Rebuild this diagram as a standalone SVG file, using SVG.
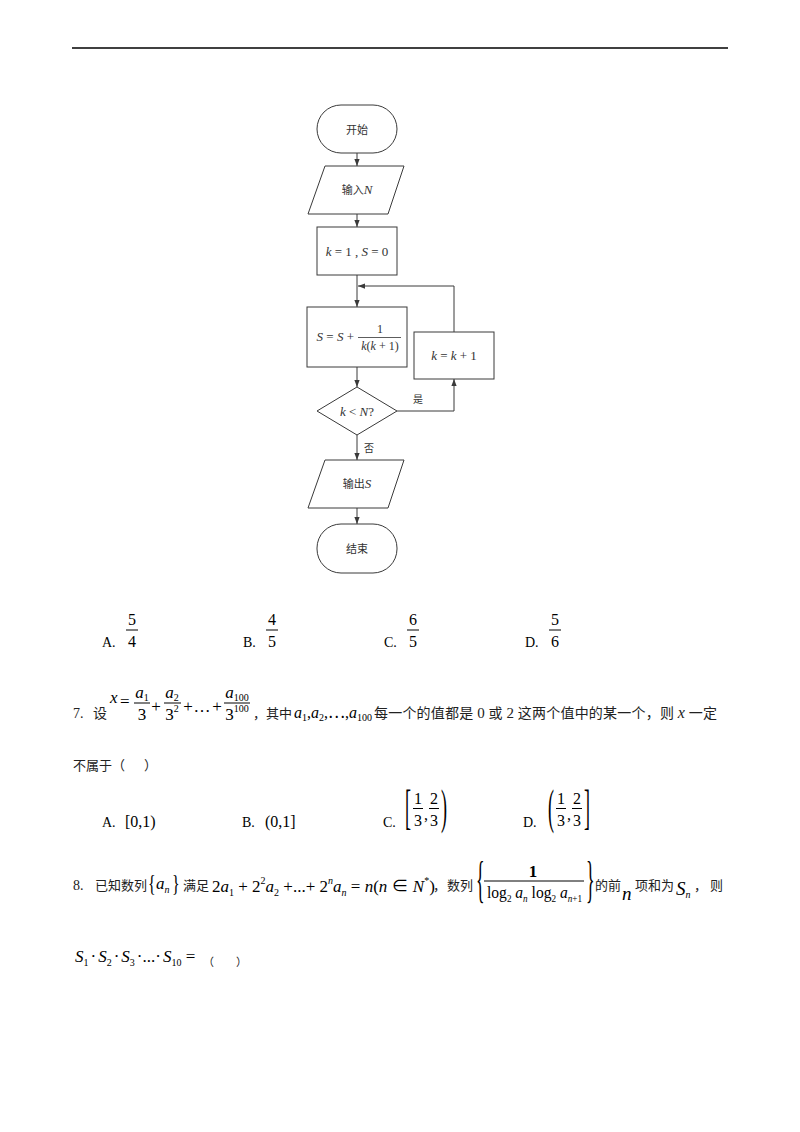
<svg xmlns="http://www.w3.org/2000/svg" width="800" height="1132" viewBox="0 0 800 1132">
<style>
.fc{fill:#fff;stroke:#3a3a3a;stroke-width:1}
.ln{fill:none;stroke:#3a3a3a;stroke-width:1}
.f{font-family:"Liberation Serif","Noto Sans CJK SC",serif;fill:#333}
.cn{font-family:"Liberation Serif","Noto Sans CJK SC",serif;fill:#222}
.m{font-family:"Liberation Serif","Noto Sans CJK SC",serif;fill:#000}
.i{font-style:italic}
.c{text-anchor:middle}
.e{text-anchor:end}
.bar{stroke:#000;stroke-width:1}
</style>
<defs>
<marker id="ah" viewBox="0 0 8 8" refX="8" refY="4" markerWidth="7" markerHeight="7" orient="auto" markerUnits="userSpaceOnUse"><path d="M0,1 L8,4 L0,7 z" fill="#3a3a3a"/></marker>
</defs>
<rect width="800" height="1132" fill="#fff"/>
<line x1="72" y1="48" x2="728" y2="48" stroke="#000" stroke-width="1.5"/>

<g id="connectors">
<line class="ln" x1="357" y1="153" x2="357" y2="166" marker-end="url(#ah)"/>
<line class="ln" x1="357" y1="214" x2="357" y2="227" marker-end="url(#ah)"/>
<line class="ln" x1="357" y1="275" x2="357" y2="307" marker-end="url(#ah)"/>
<polyline class="ln" points="454,332 454,286 358,286" marker-end="url(#ah)"/>
<line class="ln" x1="357" y1="367" x2="357" y2="387" marker-end="url(#ah)"/>
<polyline class="ln" points="397,411 454,411 454,379" marker-end="url(#ah)"/>
<line class="ln" x1="357" y1="435" x2="357" y2="460" marker-end="url(#ah)"/>
<line class="ln" x1="357" y1="508" x2="357" y2="524" marker-end="url(#ah)"/>
<text class="f c" x="418" y="403" font-size="10">是</text>
<text class="f c" x="369" y="452" font-size="10">否</text>
</g>

<g id="start">
<rect class="fc" x="317" y="105" width="80" height="48" rx="24"/>
<text class="f c" x="357" y="134" font-size="11">开始</text>
</g>
<g id="input">
<polygon class="fc" points="325,166 404,166 388,214 308,214"/>
<text class="f c" x="357" y="194" font-size="11">输入<tspan class="i" font-size="13">N</tspan></text>
</g>
<g id="init">
<rect class="fc" x="317" y="227" width="80" height="48"/>
<text class="f c" x="357" y="256" font-size="13"><tspan class="i">k</tspan> = 1 , <tspan class="i">S</tspan> = 0</text>
</g>
<g id="sum">
<rect class="fc" x="307" y="307" width="100" height="60"/>
<text class="f e" x="354" y="341" font-size="13"><tspan class="i">S</tspan> = <tspan class="i">S</tspan> +</text>
<text class="f c" x="380" y="333" font-size="12">1</text>
<line x1="358" y1="337.5" x2="401" y2="337.5" stroke="#333" stroke-width="0.8"/>
<text class="f c" x="380" y="350" font-size="12"><tspan class="i">k</tspan>(<tspan class="i">k</tspan> + 1)</text>
</g>
<g id="inc">
<rect class="fc" x="414" y="332" width="80" height="47"/>
<text class="f c" x="454" y="360" font-size="13"><tspan class="i">k</tspan> = <tspan class="i">k</tspan> + 1</text>
</g>
<g id="decision">
<polygon class="fc" points="357,387 397,411 357,435 317,411"/>
<text class="f c" x="357" y="416" font-size="13"><tspan class="i">k</tspan> &lt; <tspan class="i">N</tspan>?</text>
</g>
<g id="output">
<polygon class="fc" points="325,460 404,460 388,508 308,508"/>
<text class="f c" x="357" y="488" font-size="11">输出<tspan class="i" font-size="13">S</tspan></text>
</g>
<g id="end">
<rect class="fc" x="317" y="524" width="80" height="49" rx="24"/>
<text class="f c" x="357" y="553" font-size="11">结束</text>
</g>

<g id="q6-options" font-size="16">
<text class="m" x="102" y="647" font-size="14">A.</text>
<text class="m c" x="132" y="625">5</text><line class="bar" x1="126" y1="630" x2="138" y2="630"/><text class="m c" x="132" y="647">4</text>
<text class="m" x="243" y="647" font-size="14">B.</text>
<text class="m c" x="272" y="625">4</text><line class="bar" x1="266" y1="630" x2="278" y2="630"/><text class="m c" x="272" y="647">5</text>
<text class="m" x="384" y="647" font-size="14">C.</text>
<text class="m c" x="413" y="625">6</text><line class="bar" x1="407" y1="630" x2="419" y2="630"/><text class="m c" x="413" y="647">5</text>
<text class="m" x="525" y="647" font-size="14">D.</text>
<text class="m c" x="555" y="625">5</text><line class="bar" x1="549" y1="630" x2="561" y2="630"/><text class="m c" x="555" y="647">6</text>
</g>

<g id="q7" font-size="17">
<text class="cn" x="73" y="718" font-size="14">7.</text>
<text class="cn" x="93" y="718" font-size="14">设</text>
<text class="m i" x="110" y="703">x</text>
<text class="m" x="120" y="707">=</text>
<text class="m c" x="142" y="698"><tspan class="i">a</tspan><tspan font-size="10" dy="3">1</tspan></text>
<line class="bar" x1="134" y1="703" x2="150" y2="703"/>
<text class="m c" x="142" y="720">3</text>
<text class="m c" x="156" y="712">+</text>
<text class="m c" x="172" y="698"><tspan class="i">a</tspan><tspan font-size="10" dy="3">2</tspan></text>
<line class="bar" x1="164" y1="703" x2="181" y2="703"/>
<text class="m c" x="172" y="720">3<tspan font-size="10" dy="-8">2</tspan></text>
<text class="m c" x="188" y="712">+</text>
<text class="m c" x="202" y="712">…</text>
<text class="m c" x="217" y="712">+</text>
<text class="m c" x="237" y="698"><tspan class="i">a</tspan><tspan font-size="10" dy="3">100</tspan></text>
<line class="bar" x1="224" y1="703" x2="250" y2="703"/>
<text class="m c" x="237" y="720">3<tspan font-size="10" dy="-8">100</tspan></text>
<text class="cn" x="253" y="718" font-size="13">，其中</text>
<text class="m" x="294" y="718" font-size="16"><tspan class="i">a</tspan><tspan font-size="10" dy="3">1</tspan><tspan dy="-3">,</tspan><tspan class="i">a</tspan><tspan font-size="10" dy="3">2</tspan><tspan dy="-3">,⋯,</tspan><tspan class="i">a</tspan><tspan font-size="10" dy="3">100</tspan></text>
<text class="cn" x="374" y="718" font-size="14" textLength="343" lengthAdjust="spacing">每一个的值都是 <tspan font-size="15">0</tspan> 或 <tspan font-size="15">2</tspan> 这两个值中的某一个，则 <tspan class="i" font-size="16">x</tspan> 一定</text>
<text class="cn" x="73" y="770" font-size="13">不属于（</text>
<text class="cn" x="144" y="770" font-size="13">）</text>
</g>

<g id="q7-options" font-size="16">
<text class="m" x="102" y="827" font-size="14">A.</text>
<text class="m" x="125" y="827">[0,1)</text>
<text class="m" x="242" y="827" font-size="14">B.</text>
<text class="m" x="265" y="827">(0,1]</text>
<text class="m" x="383" y="827" font-size="14">C.</text>
<text class="m" transform="translate(405,823) scale(1,2.7)" font-size="18">[</text>
<text class="m c" x="418" y="804">1</text><line class="bar" x1="413" y1="808.5" x2="423" y2="808.5"/><text class="m c" x="418" y="826">3</text>
<text class="m" x="424" y="820">,</text>
<text class="m c" x="434" y="804">2</text><line class="bar" x1="429" y1="808.5" x2="439" y2="808.5"/><text class="m c" x="434" y="826">3</text>
<text class="m" transform="translate(441,823) scale(1,2.7)" font-size="18">)</text>
<text class="m" x="523" y="827" font-size="14">D.</text>
<text class="m" transform="translate(548,823) scale(1,2.7)" font-size="18">(</text>
<text class="m c" x="561" y="804">1</text><line class="bar" x1="556" y1="808.5" x2="566" y2="808.5"/><text class="m c" x="561" y="826">3</text>
<text class="m" x="567" y="820">,</text>
<text class="m c" x="577" y="804">2</text><line class="bar" x1="572" y1="808.5" x2="582" y2="808.5"/><text class="m c" x="577" y="826">3</text>
<text class="m" transform="translate(584,823) scale(1,2.7)" font-size="18">]</text>
</g>

<g id="q8" font-size="17">
<text class="cn" x="73" y="890" font-size="14">8.</text>
<text class="cn" x="95" y="890" font-size="13">已知数列</text>
<text class="m" transform="translate(148,891) scale(1,1.5)" font-size="16">{</text>
<text class="m i" x="156" y="889">a<tspan font-size="10" dy="4">n</tspan></text>
<text class="m" transform="translate(172,891) scale(1,1.5)" font-size="16">}</text>
<text class="cn" x="183" y="890" font-size="13">满足</text>
<text class="m" x="212" y="892" font-size="17">2<tspan class="i">a</tspan><tspan font-size="10" dy="4">1</tspan><tspan dy="-4"> + 2</tspan><tspan font-size="10" dy="-8">2</tspan><tspan class="i" dy="8">a</tspan><tspan font-size="10" dy="4">2</tspan><tspan dy="-4"> +...+ 2</tspan><tspan class="i" font-size="10" dy="-8">n</tspan><tspan class="i" dy="8">a</tspan><tspan class="i" font-size="10" dy="4">n</tspan><tspan dy="-4"> = </tspan><tspan class="i">n</tspan>(<tspan class="i">n</tspan> ∈ <tspan class="i">N</tspan><tspan font-size="10" dy="-8">*</tspan><tspan dy="8">)</tspan></text>
<text class="cn" x="433" y="890" font-size="13">，</text>
<text class="cn" x="447" y="890" font-size="13">数列</text>
<text class="m" transform="translate(476,896) scale(1,2.85)" font-size="18">{</text>
<text class="m c" x="533" y="877" font-weight="bold">1</text>
<line class="bar" x1="484" y1="881" x2="584" y2="881"/>
<text class="m" x="487" y="898" textLength="95" lengthAdjust="spacingAndGlyphs">log<tspan font-size="10" dy="4">2</tspan><tspan class="i" dy="-4"> a</tspan><tspan class="i" font-size="10" dy="4">n</tspan><tspan dy="-4"> log</tspan><tspan font-size="10" dy="4">2</tspan><tspan class="i" dy="-4"> a</tspan><tspan class="i" font-size="10" dy="4">n</tspan><tspan font-size="10">+1</tspan></text>
<text class="m" transform="translate(586,896) scale(1,2.85)" font-size="18">}</text>
<text class="cn" x="595" y="890" font-size="13">的前</text>
<text class="m i" x="622" y="900" font-size="19">n</text>
<text class="cn" x="635" y="890" font-size="13">项和为</text>
<text class="m i" x="676" y="895" font-size="19">S<tspan font-size="10" dy="3">n</tspan></text>
<text class="cn" x="694" y="890" font-size="13">，</text>
<text class="cn" x="710" y="890" font-size="13">则</text>
<text class="m" x="75" y="962" font-size="17"><tspan class="i">S</tspan><tspan font-size="10" dy="4">1</tspan><tspan dy="-4" dx="2">·</tspan><tspan class="i" dx="2">S</tspan><tspan font-size="10" dy="4">2</tspan><tspan dy="-4" dx="2">·</tspan><tspan class="i" dx="2">S</tspan><tspan font-size="10" dy="4">3</tspan><tspan dy="-4" dx="2">·...·</tspan><tspan class="i" dx="2">S</tspan><tspan font-size="10" dy="4">10</tspan><tspan dy="-4"> =</tspan></text>
<text class="cn" x="203" y="966" font-size="11">（</text>
<text class="cn" x="236" y="966" font-size="11">）</text>
</g>
</svg>
